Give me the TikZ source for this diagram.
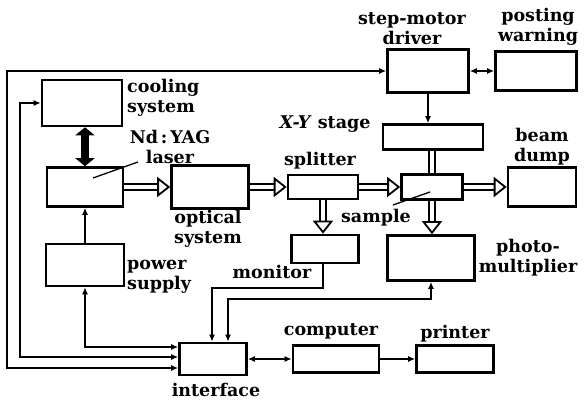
\documentclass[tikz,border=0pt]{standalone}
\usepackage{fontspec}
\setmainfont{DejaVu Serif}
\usetikzlibrary{arrows.meta, positioning}
\tikzset{
  blk/.style={rectangle,draw,line width=2.6pt,inner sep=0pt},
  lbl/.style={font=\fontsize{17.5}{20}\selectfont\bfseries,inner sep=0pt,align=center},
  sig/.style={line width=1.7pt,>={Latex[length=7pt,width=6pt]}},
  beam/.style={double,double distance=4pt,line width=1.8pt,-{Triangle[open,length=13pt,width=20pt]}},
  rod/.style={double,double distance=4pt,line width=1.8pt},
  coolarr/.style={line width=8pt,{Triangle[length=8pt,width=19pt]}-{Triangle[length=8pt,width=19pt]}},
  leader/.style={line width=1.3pt}
}
\begin{document}
\begin{tikzpicture}[x=1pt,y=-1pt]
  \useasboundingbox (0,0) rectangle (584,403);

  % Boxes
  \node[blk,minimum width=80pt,minimum height=46pt] (cool) at (82,103) {};
  \node[blk,minimum width=76pt,minimum height=39pt] (laser) at (85,187) {};
  \node[blk,minimum width=77pt,minimum height=43pt] (optic) at (210,187) {};
  \node[blk,minimum width=70pt,minimum height=24pt] (split) at (323,187) {};
  \node[blk,minimum width=61pt,minimum height=25pt] (sample) at (432,187) {};
  \node[blk,minimum width=68pt,minimum height=39pt] (dump) at (542,187) {};
  \node[blk,minimum width=100pt,minimum height=25pt] (stage) at (433,137) {};
  \node[blk,minimum width=81pt,minimum height=43pt] (driver) at (428,71) {};
  \node[blk,minimum width=81pt,minimum height=39pt] (warn) at (536,71) {};
  \node[blk,minimum width=67pt,minimum height=28pt] (monitor) at (325,249) {};
  \node[blk,minimum width=87pt,minimum height=45pt] (pmt) at (431,258) {};
  \node[blk,minimum width=78pt,minimum height=42pt] (power) at (85,265) {};
  \node[blk,minimum width=67pt,minimum height=32pt] (iface) at (213,359) {};
  \node[blk,minimum width=86pt,minimum height=27pt] (comp) at (336,359) {};
  \node[blk,minimum width=77pt,minimum height=27pt] (printer) at (455,359) {};

  % Labels
  \node[lbl,align=left,anchor=west] (coolt) at (127,98) {cooling\\system};
  \node[lbl] (lasert) at (170,147) {Nd\,:\,YAG\\laser};
  \node[lbl] (optict) at (208,229) {optical\\system};
  \node[lbl] (splitt) at (320,161) {splitter};
  \node[lbl] (staget) at (325,124) {\textit{X-Y} stage};
  \node[lbl] (drivert) at (412,29) {step-motor\\driver};
  \node[lbl] (warnt) at (538,27) {posting\\warning};
  \node[lbl] (dumpt) at (542,147) {beam\\dump};
  \node[lbl] (samplet) at (376,218) {sample};
  \node[lbl] (monitort) at (272,272) {monitor};
  \node[lbl] (pmtt) at (528,258) {photo-\\multiplier};
  \node[lbl,align=left,anchor=west] (powert) at (127,277) {power\\supply};
  \node[lbl] (ifacet) at (216,390) {interface};
  \node[lbl] (compt) at (331,331) {computer};
  \node[lbl] (printert) at (455,334) {printer};

  % Beam path
  \draw[coolarr] (cool.south -| laser.north) -- (laser.north);
  \draw[beam] (laser.east) -- (optic.west);
  \draw[beam] (optic.east) -- (split.west);
  \draw[beam] (split.east) -- (sample.west);
  \draw[beam] (sample.east) -- (dump.west);
  \draw[beam] (split.south) -- (split.south |- monitor.north);
  \draw[beam] (sample.south) -- (sample.south |- pmt.north);
  \draw[rod] (stage.south -| sample.north) -- (sample.north);
  \draw[leader] (138,162) -- (93,178);
  \draw[leader] (393,205) -- (430,192);

  % Signal lines
  \draw[sig,<->] (iface.west |- 0,368) -| (7,71) -- (driver.west);
  \draw[sig,<->] (iface.west |- 0,357) -| (20,103) -- (cool.west);
  \draw[sig,<->] (iface.west |- 0,347) -| (power.south);
  \draw[sig,->] (power.north) -- (laser.south);
  \draw[sig,->] (monitor.south -| 323,0) |- (212,288) -- (iface.north -| 212,0);
  \draw[sig,<->] (pmt.south) |- (228,299) -- (iface.north -| 228,0);
  \draw[sig,<->] (iface.east) -- (comp.west);
  \draw[sig,->] (comp.east) -- (printer.west);
  \draw[sig,<->] (driver.east) -- (warn.west);
  \draw[sig,->] (driver.south) -- (driver.south |- stage.north);

\end{tikzpicture}
\end{document}
